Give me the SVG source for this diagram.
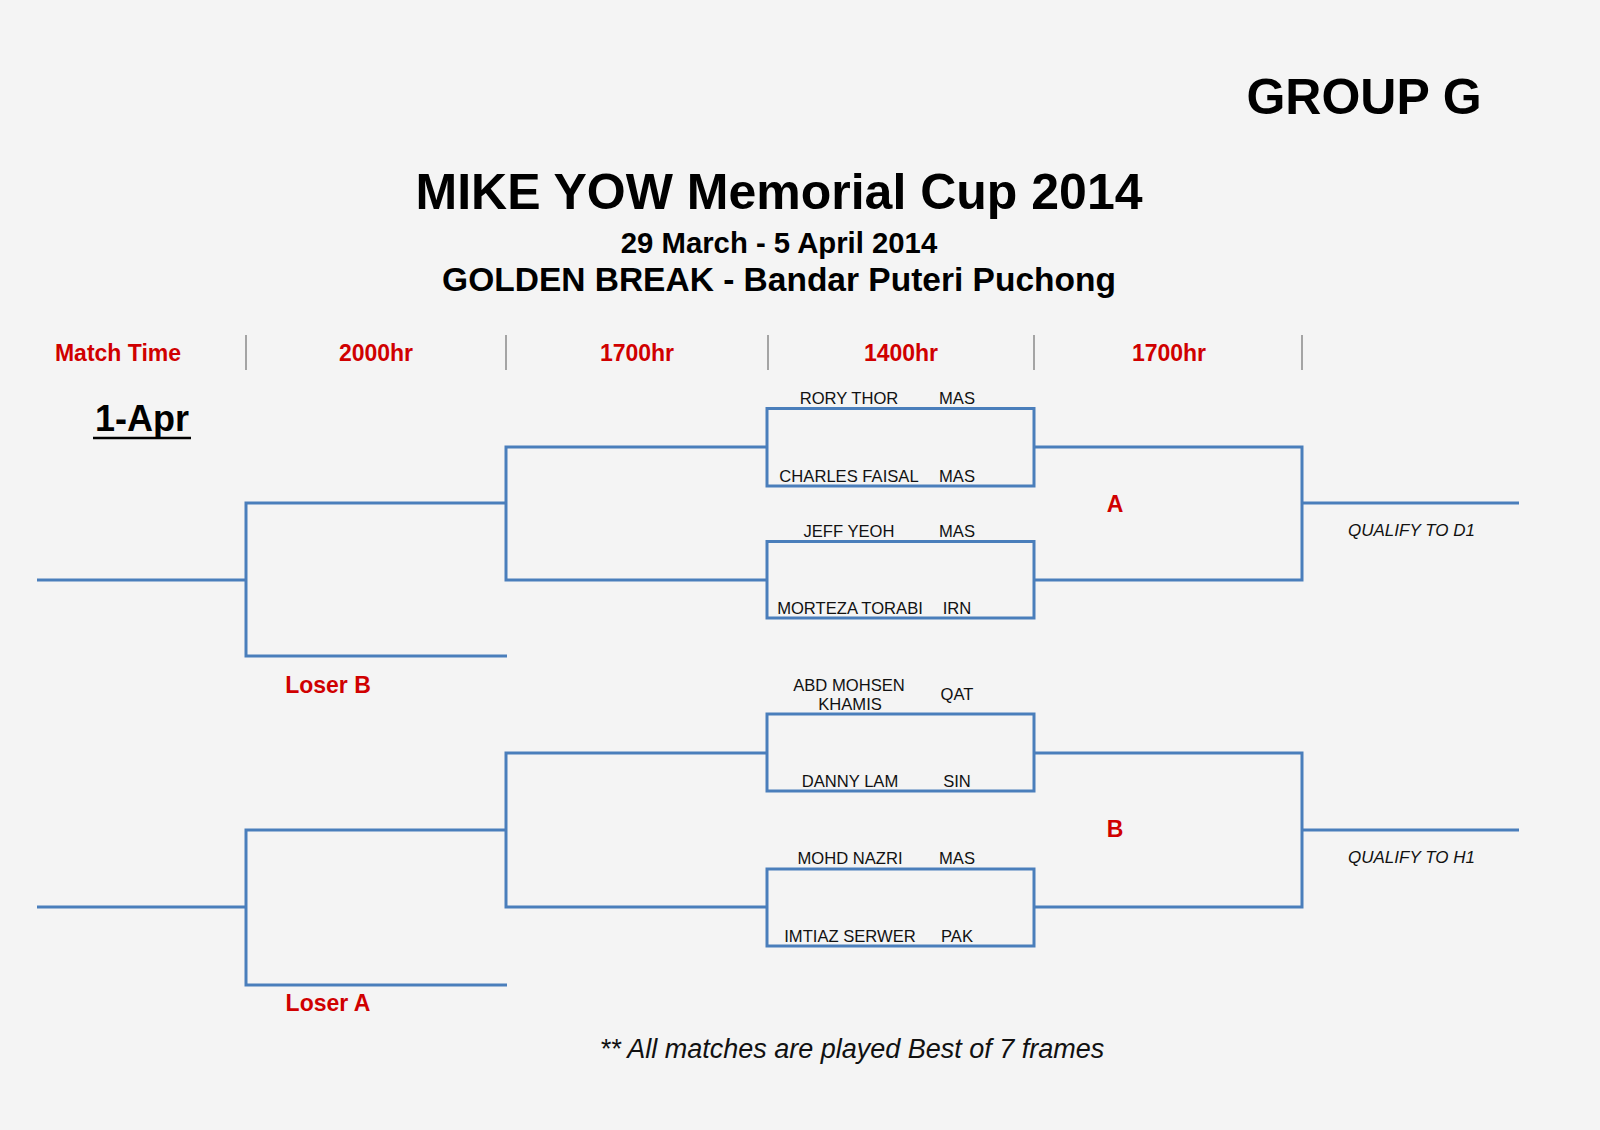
<svg xmlns="http://www.w3.org/2000/svg" width="1600" height="1130" viewBox="0 0 1600 1130">
<style>
text{font-family:"Liberation Sans",Arial,sans-serif;}
.t{font-weight:bold;fill:#000;text-anchor:middle;}
.h{font-weight:bold;fill:#d00000;font-size:23px;text-anchor:middle;}
.n{fill:#111;font-size:16.6px;text-anchor:middle;}
.q{fill:#111;font-size:17px;font-style:italic;}
.sep{stroke:#8a8a8a;stroke-width:1.5;}
.br{fill:none;stroke:#4a7ebb;stroke-width:3;}
</style>
<rect width="1600" height="1130" fill="#f4f4f4"/>
<g id="titles">
<text class="t" x="1364" y="114" font-size="50">GROUP G</text>
<text class="t" x="779" y="209" font-size="50">MIKE YOW Memorial Cup 2014</text>
<text class="t" x="779" y="253" font-size="29.3">29 March - 5 April 2014</text>
<text class="t" x="779" y="291" font-size="33.5">GOLDEN BREAK - Bandar Puteri Puchong</text>
</g>
<g id="header">
<text class="h" x="118" y="361">Match Time</text>
<text class="h" x="376" y="361">2000hr</text>
<text class="h" x="637" y="361">1700hr</text>
<text class="h" x="901" y="361">1400hr</text>
<text class="h" x="1169" y="361">1700hr</text>
<line class="sep" x1="246" y1="335" x2="246" y2="370"/>
<line class="sep" x1="506" y1="335" x2="506" y2="370"/>
<line class="sep" x1="768" y1="335" x2="768" y2="370"/>
<line class="sep" x1="1034" y1="335" x2="1034" y2="370"/>
<line class="sep" x1="1302" y1="335" x2="1302" y2="370"/>
</g>
<g id="date">
<text x="142" y="431" font-size="36" font-weight="bold" text-anchor="middle" fill="#000">1-Apr</text>
<line x1="93" y1="438" x2="191" y2="438" stroke="#000" stroke-width="2.5"/>
</g>
<g id="connectors">
<polyline class="br" points="37,580 246,580"/>
<polyline class="br" points="506,503 246,503 246,656 507,656"/>
<polyline class="br" points="767,447 506,447 506,580 767,580"/>
<polyline class="br" points="1034,447 1302,447 1302,580 1034,580"/>
<polyline class="br" points="1302,503 1519,503"/>
<polyline class="br" points="37,907 246,907"/>
<polyline class="br" points="506,830 246,830 246,985 507,985"/>
<polyline class="br" points="767,753 506,753 506,907 767,907"/>
<polyline class="br" points="1034,753 1302,753 1302,907 1034,907"/>
<polyline class="br" points="1302,830 1519,830"/>
</g>
<g id="match1">
<rect class="br" x="767" y="408.5" width="267" height="77.5"/>
<text class="n" x="849" y="404">RORY THOR</text>
<text class="n" x="957" y="404">MAS</text>
<text class="n" x="849" y="482">CHARLES FAISAL</text>
<text class="n" x="957" y="482">MAS</text>
</g>
<g id="match2">
<rect class="br" x="767" y="541.5" width="267" height="76.5"/>
<text class="n" x="849" y="537">JEFF YEOH</text>
<text class="n" x="957" y="537">MAS</text>
<text class="n" x="850" y="614">MORTEZA TORABI</text>
<text class="n" x="957" y="614">IRN</text>
</g>
<g id="match3">
<rect class="br" x="767" y="714" width="267" height="77"/>
<text class="n" x="849" y="691">ABD MOHSEN</text>
<text class="n" x="850" y="710">KHAMIS</text>
<text class="n" x="957" y="700">QAT</text>
<text class="n" x="850" y="787">DANNY LAM</text>
<text class="n" x="957" y="787">SIN</text>
</g>
<g id="match4">
<rect class="br" x="767" y="869" width="267" height="77"/>
<text class="n" x="850" y="864">MOHD NAZRI</text>
<text class="n" x="957" y="864">MAS</text>
<text class="n" x="850" y="942">IMTIAZ SERWER</text>
<text class="n" x="957" y="942">PAK</text>
</g>
<g id="labels">
<text class="h" x="1115" y="512">A</text>
<text class="h" x="1115" y="837">B</text>
<text class="h" x="328" y="693">Loser B</text>
<text class="h" x="328" y="1011">Loser A</text>
<text class="q" x="1348" y="536">QUALIFY TO D1</text>
<text class="q" x="1348" y="863">QUALIFY TO H1</text>
</g>
<g id="footer">
<text x="852" y="1058" font-size="27" font-style="italic" text-anchor="middle" fill="#111">** All matches are played Best of 7 frames</text>
</g>
</svg>
